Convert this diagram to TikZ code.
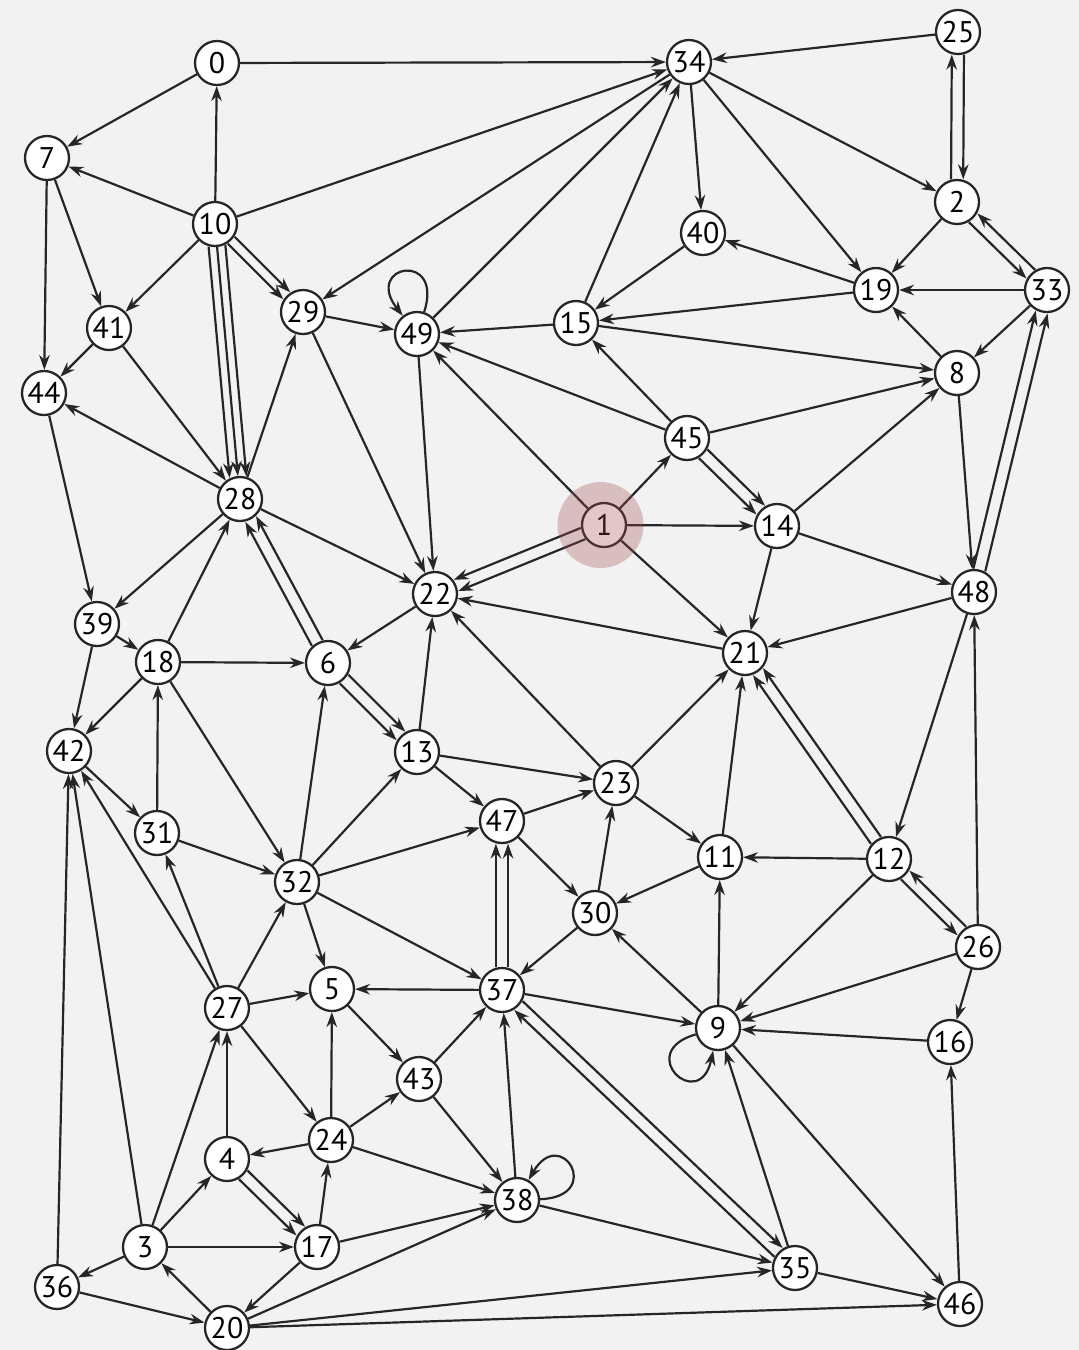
\documentclass[tikz,border=0pt]{standalone}
\usepackage{fontspec}
\setmainfont{PT Sans}
\usetikzlibrary{arrows.meta,calc}

\definecolor{ink}{HTML}{262626}
\definecolor{paper}{HTML}{F2F2F2}
\definecolor{halo}{RGB}{158,72,72}

\begin{document}
\begin{tikzpicture}[x=0.02cm, y=-0.02cm,
  vertex/.style={circle, draw=ink, fill=white, line width=1.3pt,
    minimum size=0.88cm, inner sep=0pt, font=\fontsize{17}{17}\selectfont},
  arr/.style={draw=ink, line width=1.25pt,
    -{Stealth[length=8.5pt,width=6pt,inset=2.8pt]}}]

  % Background
  \fill[paper] (0,0) rectangle (1079,1350);
  \useasboundingbox (0,0) rectangle (1079,1350);

  % Vertices
  \foreach \n/\px/\py in {0/217/63, 1/604/525, 2/957/202, 3/145/1247,
      4/227/1159, 5/332/989, 6/328/663, 7/47/158, 8/957/373, 9/718/1028,
      10/215/224, 11/720/857, 12/889/859, 13/417/752, 14/777/526,
      15/576/323, 16/950/1042, 17/317/1247, 18/158/662, 19/876/290,
      20/227/1328, 21/745/653, 22/435/594, 23/616/783, 24/331/1140,
      25/958/32, 26/978/947, 27/227/1008, 28/240/499, 29/303/312,
      30/595/913, 31/157/833, 32/297/882, 33/1047/290, 34/689/62,
      35/795/1268, 36/57/1287, 37/502/990, 38/517/1200, 39/97/624,
      40/703/233, 41/109/328, 42/69/751, 43/419/1079, 44/44/393,
      45/687/438, 46/960/1304, 47/502/821, 48/974/592, 49/417/334}
    \node[vertex] (v\n) at (\px,\py) {\n};

  % Single arcs
  \foreach \a/\b in {0/7, 0/34, 10/0, 10/7, 10/34, 10/41, 10/28, 34/29,
      28/29, 7/41, 7/44, 41/44, 41/28, 28/44, 28/39, 28/22, 29/49, 29/22,
      49/34, 15/34, 15/49, 15/8, 34/40, 40/15, 19/15, 19/40, 34/19, 34/2,
      25/34, 2/19, 33/19, 33/8, 8/19, 8/48, 45/15, 45/8, 45/49, 1/45,
      1/49, 1/14, 1/21, 14/8, 14/48, 14/21, 48/21, 48/12, 21/22, 49/22,
      22/6, 13/22, 23/22, 18/6, 18/28, 18/42, 18/32, 39/18, 39/42, 44/39,
      31/18, 42/31, 31/32, 32/6, 32/13, 32/47, 32/37, 32/5, 27/32, 27/31,
      27/42, 27/5, 27/24, 13/23, 13/47, 47/23, 47/30, 23/21, 23/11,
      30/23, 11/30, 11/21, 12/11, 12/9, 26/9, 26/16, 26/48, 16/9, 9/11,
      9/30, 9/46, 37/9, 37/5, 30/37, 35/9, 35/46, 46/16, 38/37, 38/35,
      43/37, 43/38, 5/43, 24/5, 24/43, 24/4, 24/38, 17/24, 17/38, 17/20,
      4/27, 3/4, 3/17, 3/27, 3/42, 3/36, 36/42, 36/20, 20/3, 20/38,
      20/35, 20/46}
    \draw[arr] (v\a) -- (v\b);

  % Parallel arcs
  \foreach \a/\b/\s/\t in {2/25/15/-15, 25/2/15/-15, 2/33/-15/15,
      33/2/-15/15, 12/26/-15/15, 26/12/-15/15, 37/35/15/-15, 35/37/15/-15,
      1/22/15/-15, 1/22/-15/15, 45/14/15/-15, 45/14/-15/15,
      48/33/15/-15, 48/33/-15/15, 12/21/15/-15, 12/21/-15/15,
      6/28/15/-15, 6/28/-15/15, 6/13/15/-15, 6/13/-15/15,
      37/47/15/-15, 37/47/-15/15, 4/17/15/-15, 4/17/-15/15,
      10/29/12/-12, 10/29/-12/12, 10/28/21/-21, 10/28/-21/21}
    \draw[arr] ($(v\a)!0.47cm!\s:(v\b)$) -- ($(v\b)!0.47cm!\t:(v\a)$);

  % Self-loops
  \draw[arr] (v49) to[out=72, in=128, distance=1.3cm] (v49);
  \draw[arr] (v9) to[out=196, in=258, distance=1.3cm] (v9);
  \draw[arr] (v38) to[out=2, in=60, distance=1.3cm] (v38);

  % Source halo
  \fill[halo, opacity=0.3] ([xshift=-2pt]v1.center) circle (0.86cm);
\end{tikzpicture}
\end{document}
